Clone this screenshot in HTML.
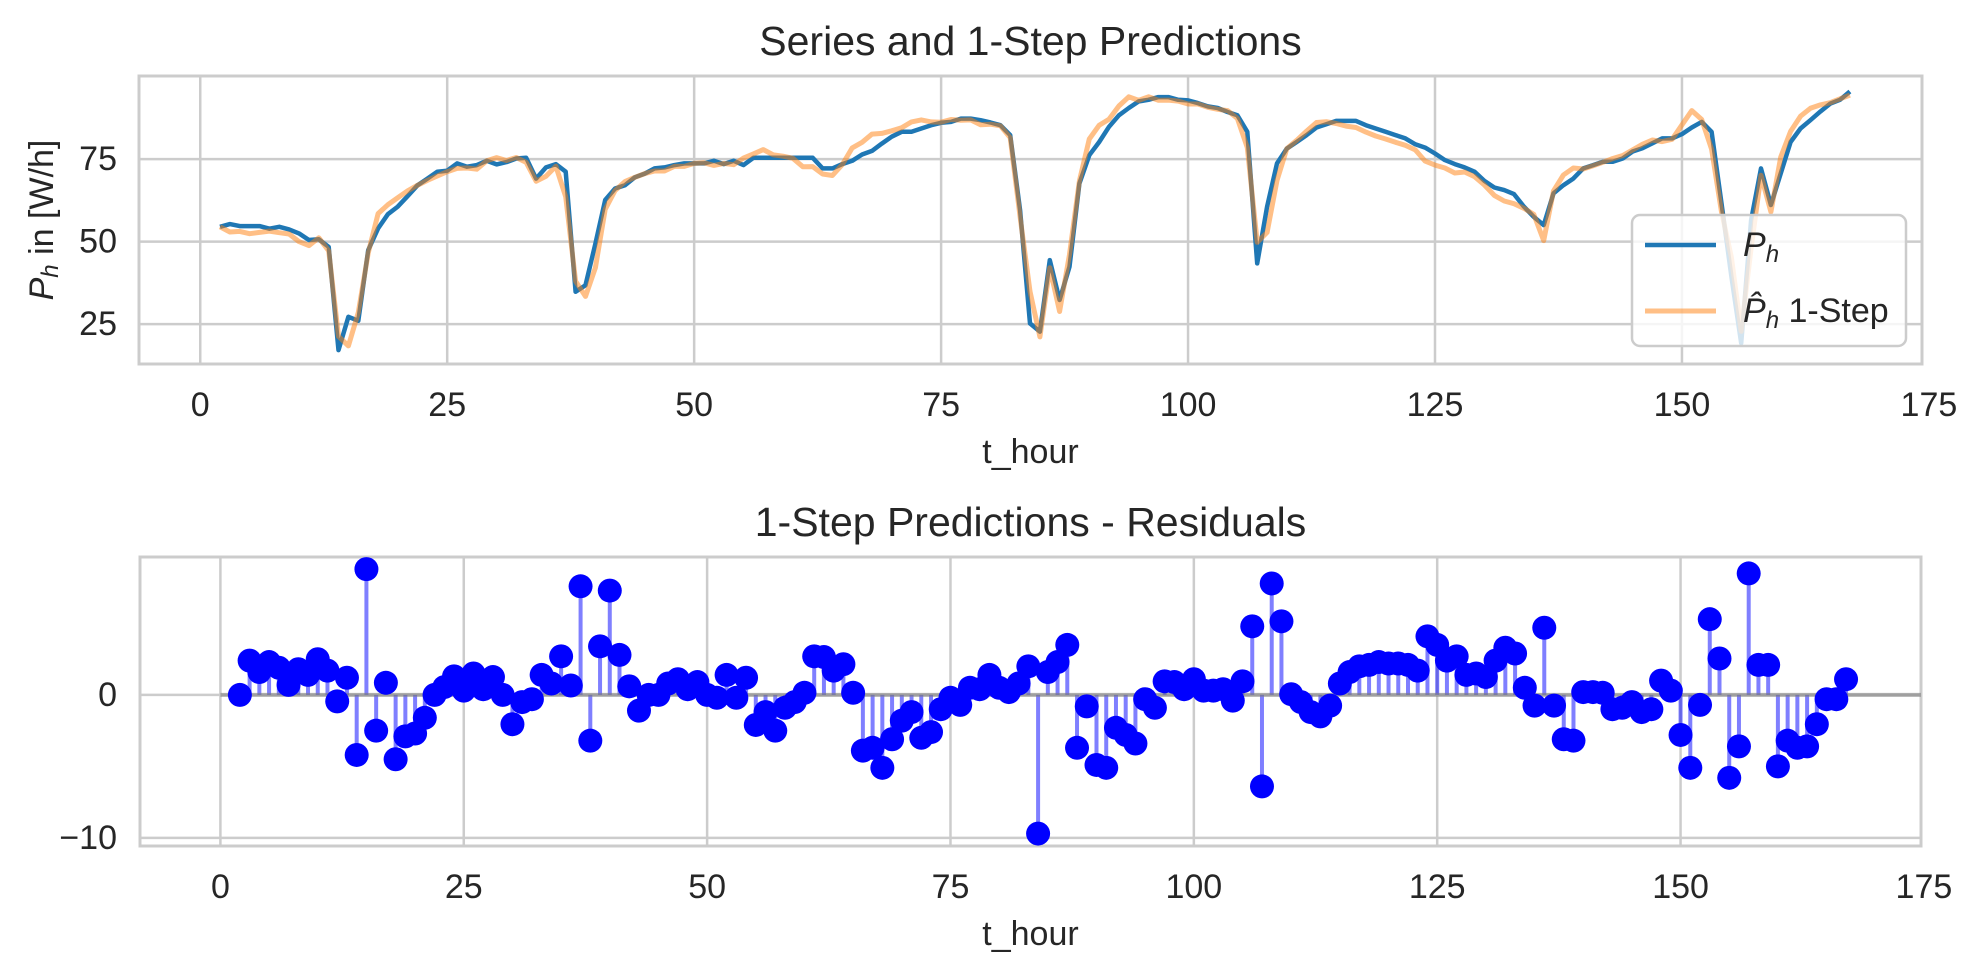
<!DOCTYPE html>
<html><head><meta charset="utf-8"><style>
html,body{margin:0;padding:0;background:#fff;}
svg{display:block;font-family:"Liberation Sans",sans-serif;}
</style></head><body>
<svg id="fig" width="1974" height="974" viewBox="0 0 1974 974" xmlns="http://www.w3.org/2000/svg">
<rect x="0" y="0" width="1974" height="974" fill="#fff"/>
<g id="top"></g>
<g id="bot"></g>
</svg>
<script>
const tStart = 2;
const powerActual = [54.5,55.3,54.7,54.7,54.7,53.9,54.5,53.7,52.5,50.5,50.7,48.4,17.1,27.2,26,47.4,54,58.3,60.6,63.8,67.1,69.1,71.2,71.5,73.7,72.7,73.2,74.5,73.4,74.1,75.2,75.4,69.1,72.5,73.5,71.2,34.8,36.8,49.4,62.6,66.1,67.1,69.5,70.6,72.2,72.5,73.2,73.7,73.7,73.7,74.5,73.5,74.5,73.2,75.4,75.4,75.4,75.4,75.4,75.4,75.4,72.2,72.2,73.5,74.5,76.4,77.5,79.7,81.8,83.3,83.3,84.3,85.3,86,86.3,87.3,87.3,86.8,86.1,85.3,82.3,59.5,25.2,22.7,44.4,32.3,42.4,67.6,76.2,80.2,84.8,88.3,90.5,92.5,93,93.8,93.8,93,92.8,92,91,90.5,89.3,88.3,83.3,43.4,60.6,73.7,78.2,80.2,82.3,84.6,85.6,86.6,86.6,86.6,85.3,84.3,83.3,82.3,81.3,79.5,78.5,76.7,74.7,73.5,72.5,71.2,68.4,66.4,65.6,64.4,60.6,57.5,55.0,64.6,67.1,69.1,72.2,73.2,74.2,74.2,75.2,77.3,78.3,79.8,81.3,81.3,82.6,84.6,86.3,83.3,61.6,39.4,19.2,56.5,72.2,61.1,70.6,80.2,84.3,86.8,89.4,91.8,93,95.5];
const residuals = [0,2.4,1.6,2.3,1.9,0.7,1.8,1.4,2.5,1.7,-0.45,1.2,-4.2,8.8,-2.5,0.85,-4.5,-2.9,-2.7,-1.6,0,0.55,1.3,0.3,1.5,0.4,1.25,0,-2.05,-0.5,-0.3,1.4,0.8,2.7,0.66,7.6,-3.2,3.4,7.3,2.8,0.6,-1.1,0,0,0.8,1.1,0.4,0.9,0,-0.2,1.4,-0.2,1.2,-2.1,-1.2,-2.5,-0.9,-0.5,0.15,2.7,2.65,1.7,2.15,0.15,-3.9,-3.7,-5.1,-3.1,-1.8,-1.2,-3.0,-2.6,-1.0,-0.2,-0.7,0.5,0.4,1.4,0.5,0.2,0.8,2.0,-9.7,1.6,2.3,3.5,-3.7,-0.8,-4.9,-5.1,-2.3,-2.8,-3.4,-0.3,-0.9,0.95,0.9,0.4,1.1,0.3,0.3,0.4,-0.4,0.95,4.8,-6.4,7.8,5.15,0.05,-0.5,-1.2,-1.5,-0.75,0.8,1.6,2.0,2.1,2.3,2.2,2.2,2.1,1.7,4.1,3.5,2.4,2.7,1.4,1.5,1.25,2.4,3.3,2.9,0.5,-0.75,4.7,-0.75,-3.1,-3.2,0.2,0.2,0.15,-1.0,-0.9,-0.5,-1.2,-1.0,1.0,0.3,-2.8,-5.1,-0.7,5.3,2.55,-5.8,-3.6,8.5,2.1,2.1,-5.0,-3.2,-3.7,-3.6,-2.05,-0.3,-0.3,1.1];
const xTicks = [0,25,50,75,100,125,150,175];
const yTicksTop = [25,50,75];
const yTicksBot = [-10,0];

const NS="http://www.w3.org/2000/svg";
function mk(tag, attrs, parent){const e=document.createElementNS(NS,tag);for(const k in attrs)e.setAttribute(k,attrs[k]);parent.appendChild(e);return e;}
const T = powerActual.map((_,i)=>tStart+i);
const pred = powerActual.map((v,i)=>v-residuals[i]);

function axes(g, L,R,Tp,B, xmin,xmax,ymin,ymax, yticks, title, ylabel){
  const sx=v=>L+(v-xmin)/(xmax-xmin)*(R-L);
  const sy=v=>B-(v-ymin)/(ymax-ymin)*(B-Tp);
  xTicks.forEach(t=>{
    const x=sx(t);
    if(x>=L&&x<=R){const gl=mk('line',{x1:x,x2:x,y1:Tp,y2:B,stroke:'#cccccc','stroke-width':2.5},g);
    
    }
    const tl=mk('text',{x:x,y:B+41,'font-size':34,fill:'#262626','text-anchor':'middle','dominant-baseline':'central'},g);
    tl.textContent=t;
    
    
  });
  yticks.forEach(t=>{
    const y=sy(t);
    const gl=mk('line',{x1:L,x2:R,y1:y,y2:y,stroke:'#cccccc','stroke-width':2.5},g);
    
    
    const tl=mk('text',{x:117,y:y,'font-size':34,fill:'#262626','text-anchor':'end','dominant-baseline':'central'},g);
    tl.textContent=t<0?'\u2212'+Math.abs(t):t;
    
    
  });
  const fr=mk('rect',{x:L,y:Tp,width:R-L,height:B-Tp,fill:'none',stroke:'#cccccc','stroke-width':3},g);
  
  
  const tt=mk('text',{x:(L+R)/2,y:Tp-35,'font-size':41,fill:'#262626','text-anchor':'middle','dominant-baseline':'central'},g);
  tt.textContent=title;
  
  
  const xl=mk('text',{x:(L+R)/2,y:B+88,'font-size':34,fill:'#262626','text-anchor':'middle','dominant-baseline':'central'},g);
  xl.textContent='t_hour';
  
  
  return {sx,sy};
}

// top chart
const gt=document.getElementById('top');
const A=axes(gt,139,1922,76,364,-6.2,174.3,12.9,100.2,yTicksTop,'Series and 1-Step Predictions');
const yl=mk('text',{x:0,y:0,'font-size':34,fill:'#262626','text-anchor':'middle','dominant-baseline':'central',transform:'translate(42,220) rotate(-90)'},gt);
yl.innerHTML='<tspan font-style="italic">P</tspan><tspan font-style="italic" font-size="24" dy="8">h</tspan><tspan dy="-8"> in [W/h]</tspan>';


const clipT=mk('clipPath',{id:'ct'},gt);mk('rect',{x:139,y:76,width:1783,height:288},clipT);
const pts1=T.map((t,i)=>A.sx(t).toFixed(1)+','+A.sy(powerActual[i]).toFixed(1)).join(' ');
const l1=mk('polyline',{points:pts1,fill:'none',stroke:'#1f77b4','stroke-width':4.5,'stroke-linejoin':'round','clip-path':'url(#ct)'},gt);


const pts2=T.map((t,i)=>A.sx(t).toFixed(1)+','+A.sy(pred[i]).toFixed(1)).join(' ');
const l2=mk('polyline',{points:pts2,fill:'none',stroke:'#ff7f0e','stroke-opacity':0.5,'stroke-width':5,'stroke-linejoin':'round','clip-path':'url(#ct)'},gt);


// legend
const lg=mk('g',{},gt);


mk('rect',{x:1632,y:215,width:274,height:131,rx:8,fill:'#ffffff','fill-opacity':0.8,stroke:'#cccccc','stroke-width':2.5},lg);
mk('line',{x1:1645,x2:1716,y1:245,y2:245,stroke:'#1f77b4','stroke-width':4.5},lg);
mk('line',{x1:1645,x2:1716,y1:311,y2:311,stroke:'#ff7f0e','stroke-opacity':0.5,'stroke-width':5},lg);
const le1=mk('text',{x:1743,y:245,'font-size':34,fill:'#262626','dominant-baseline':'central'},lg);
le1.innerHTML='<tspan font-style="italic">P</tspan><tspan font-style="italic" font-size="24" dy="9">h</tspan>';


const le2=mk('text',{x:1743,y:311,'font-size':34,fill:'#262626','dominant-baseline':'central'},lg);
le2.innerHTML='<tspan font-style="italic">P\u0302</tspan><tspan font-style="italic" font-size="24" dy="9">h</tspan><tspan dy="-9"> 1-Step</tspan>';



// bottom chart
const gb=document.getElementById('bot');
const B=axes(gb,140,1921,557,846,-8.26,174.7,-10.57,9.65,yTicksBot,'1-Step Predictions - Residuals');
T.forEach((t,i)=>{
  const s=mk('line',{x1:B.sx(t),x2:B.sx(t),y1:B.sy(0),y2:B.sy(residuals[i]),stroke:'#0000ff','stroke-opacity':0.5,'stroke-width':4},gb);
  
  
});
const bl=mk('line',{x1:B.sx(0),x2:1921,y1:B.sy(0),y2:B.sy(0),stroke:'#808080','stroke-opacity':0.6,'stroke-width':4},gb);


T.forEach((t,i)=>{
  const c=mk('circle',{cx:B.sx(t),cy:B.sy(residuals[i]),r:12,fill:'#0000ff'},gb);
  
  
});
</script>
</body></html>
